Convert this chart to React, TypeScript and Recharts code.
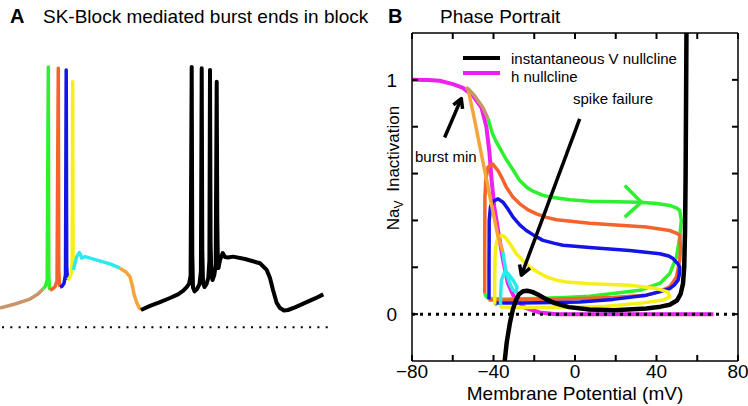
import { Legend, Line, LineChart, XAxis, YAxis } from "recharts";

const FONT = "'Liberation Sans', Arial, Helvetica, sans-serif";

// ---- Panel A: voltage trace, [time (ms), V (mV)] ----
const baselineA = [[2, -64], [328, -64]];
const tanA = [[0, -55.1], [15, -53.2], [30, -50.9], [38, -48.5], [43, -46.2]];
const greenA = [[43, -46.2], [45.5, -44.8], [47.2, -42.0], [48.3, 57.4], [48.8, -40], [49.3, -44.5], [50, -46.7]];
const redA = [[50, -46.7], [52.5, -46.2], [55, -45.1], [57, -42.5], [58.3, 56.8], [58.8, -38], [59.4, -43.5], [60, -45.3]];
const blueA = [[60, -45.3], [62, -45.0], [64, -43.5], [65.5, -39.5], [66.2, 56.0], [66.7, -36], [67.6, -42.0]];
const yellowA = [[67.6, -42.0], [69.5, -41.1], [71.2, -39.0], [72.2, -33], [72.7, 50.5], [73.1, -30], [73.4, -37.3]];
const cyanA = [[73.4, -37.3], [74.8, -34.5], [76.7, -31.1], [79.3, -29.2], [80.8, -30.3], [81.7, -31.8], [85, -31.1], [97, -32.7], [110, -34.5], [120, -36.5]];
const orangeA = [[120, -36.5], [126, -38.3], [130, -40.5], [132, -44], [134, -48.5], [136.5, -52.3], [139, -54.8], [141, -56.0]];
const blackA = [
  [141, -56.0], [150, -54.1], [160, -52.3], [170, -50.4], [178, -48.7], [183, -47.1], [186.7, -45.3], [189, -43.9], [190.6, -40],
  [191.7, 57.4], [192.3, -30], [193, -45.5], [194.5, -47.3], [197, -46.2], [199.5, -43.9], [200.9, -38],
  [201.7, 56.8], [202.3, -28], [203, -43], [204.5, -45.3], [206.5, -43.9], [208.3, -41], [209.4, -33],
  [210, 56.0], [210.6, -25], [211.3, -38], [212.5, -42.0], [214.3, -39.7], [215.7, -35],
  [216.7, 50.5], [217.3, -15], [217.8, -32], [218.5, -36.4], [220, -32.7], [222.7, -29.4], [225, -31.3], [228, -31.5],
  [233, -31.1], [245, -32.2], [260, -34.2], [266.7, -37.3], [270, -41.1], [273, -46.7], [276.7, -52.7], [280, -55.1],
  [284, -56.2], [288, -56.0], [295, -54.8], [305, -52.7], [315, -50.6], [323.3, -48.7],
];

// ---- Panel B: phase portrait, [V (mV), h] ----
const vTicks = [-80, -60, -40, -20, 0, 20, 40, 60, 80];
const vLabels = [-80, -40, 0, 40, 80];
const hTicks = [0, 0.2, 0.4, 0.6, 0.8, 1];
const hLabels = [0, 1];
const legendNames = ["instantaneous V nullcline", "h nullcline"];

const zeroB = [[-80, 0], [80, 0]];
const hNullcline = [
  [-80, 1.0], [-72, 0.999], [-66.4, 0.996], [-59.9, 0.982], [-55.0, 0.966], [-50.1, 0.932], [-45.9, 0.882],
  [-43.5, 0.8], [-42.0, 0.69], [-40.9, 0.57], [-39.6, 0.457], [-37.5, 0.343], [-35.3, 0.23], [-32.9, 0.131],
  [-29.6, 0.067], [-24.7, 0.028], [-17.3, 0.007], [-9.1, 0.0], [68, 0.0],
];
const vNullcline = [
  [-34.5, -0.2], [-33.5, -0.12], [-32, -0.04], [-30.5, 0.02], [-29, 0.06], [-27.5, 0.085], [-25.5, 0.098], [-23.5, 0.1],
  [-21, 0.095], [-18, 0.083], [-14, 0.063], [-10, 0.047], [-3, 0.03], [7, 0.02], [19, 0.017], [35, 0.024], [42, 0.032],
  [46.5, 0.04], [50, 0.058], [51.8, 0.085], [53, 0.13], [53.6, 0.2], [54, 0.35], [54.3, 0.6], [54.5, 0.9], [54.7, 1.2],
];
const greenB = [
  [-42.7, 0.835], [-40.5, 0.77], [-38.6, 0.735], [-36, 0.695], [-33.7, 0.66], [-30, 0.61], [-27.1, 0.57], [-23.5, 0.54],
  [-20.6, 0.525], [-16, 0.508], [-12.4, 0.5], [-2.6, 0.488], [7.2, 0.482], [20, 0.48], [31.8, 0.478], [40, 0.472],
  [46.5, 0.464], [50, 0.452], [51.4, 0.443], [52.2, 0.4], [51.4, 0.329], [49.8, 0.244], [46.5, 0.173], [41.6, 0.131],
  [31.8, 0.102], [18.7, 0.088], [7.2, 0.076], [-5, 0.071], [-18.9, 0.067], [-35.3, 0.064], [-42, 0.068], [-43.5, 0.074],
  [-44.3, 0.088],
];
const redB = [
  [-44.3, 0.088], [-44.3, 0.3], [-44.2, 0.5], [-43.8, 0.57], [-42.7, 0.627], [-40.5, 0.641], [-37.8, 0.613],
  [-35.5, 0.575], [-33.7, 0.542], [-30.5, 0.5], [-27.1, 0.471], [-23, 0.445], [-18.9, 0.428], [-14, 0.413],
  [-9.1, 0.403], [7.2, 0.388], [20, 0.38], [35.0, 0.372], [46.5, 0.357], [50, 0.345], [51.4, 0.336], [51.8, 0.28],
  [51.4, 0.23], [49.8, 0.159], [46.5, 0.116], [41, 0.095], [35.0, 0.081], [18.7, 0.071], [2.3, 0.067], [-10, 0.064],
  [-27, 0.062], [-35.3, 0.06], [-41.8, 0.06], [-42.2, 0.062],
];
const blueB = [
  [-42.2, 0.062], [-42.2, 0.2], [-42.1, 0.4], [-41.5, 0.457], [-40.2, 0.482], [-37.8, 0.492], [-35.3, 0.478],
  [-33, 0.45], [-30.4, 0.414], [-27, 0.38], [-23.9, 0.357], [-19.5, 0.333], [-15.7, 0.315], [-10, 0.302],
  [-5.9, 0.294], [7.2, 0.284], [26.8, 0.272], [41.6, 0.258], [46, 0.248], [48.1, 0.237], [50.5, 0.215], [51.4, 0.201],
  [51.2, 0.17], [50.6, 0.145], [48.8, 0.125], [46.5, 0.109], [41, 0.094], [35.0, 0.081], [18.7, 0.063], [2.3, 0.052],
  [-10, 0.05], [-27.1, 0.048], [-38.6, 0.048], [-39.4, 0.04],
];
const yellowB = [
  [-39.4, 0.04], [-39.4, 0.15], [-39.2, 0.26], [-38.6, 0.305], [-37.5, 0.328], [-36.1, 0.336], [-34.8, 0.332],
  [-33.7, 0.322], [-31.5, 0.295], [-28.8, 0.258], [-25.5, 0.228], [-22.2, 0.201], [-18, 0.178], [-14.0, 0.159],
  [-9, 0.145], [-4.2, 0.137], [7.2, 0.13], [26.8, 0.123], [40, 0.109], [45.6, 0.095], [46.5, 0.074], [43.2, 0.06],
  [31.8, 0.046], [15.4, 0.034], [2.3, 0.031], [-10, 0.029], [-27.1, 0.028], [-36.1, 0.031], [-36.6, 0.04],
];
const cyanB = [
  [-36.6, 0.04], [-36.4, 0.1], [-36.1, 0.145], [-34.5, 0.18], [-32.9, 0.173], [-30.4, 0.145], [-28.5, 0.116],
  [-28.8, 0.095], [-30.4, 0.102], [-32.0, 0.131], [-33.7, 0.173], [-34.8, 0.23], [-35.4, 0.265],
];
const orangeB = [[-35.4, 0.265], [-37.9, 0.336], [-40.4, 0.443], [-43.3, 0.57], [-46.3, 0.698], [-49.2, 0.826], [-52.5, 0.962], [-53.5, 0.966]];
const tanB = [[-53.5, 0.966], [-52.5, 0.962], [-50, 0.94], [-48.4, 0.922], [-45.2, 0.882], [-43.5, 0.85], [-42.7, 0.835]];

// annotation arrows, in data coordinates
const burstMinShaft = [[-64, 0.754], [-55.8, 0.92]];
const burstMinHead = [[-59.7, 0.893], [-55.8, 0.92], [-55.2, 0.876]];
const failureShaft = [[2.3, 0.833], [-26.3, 0.166]];
const failureHead = [[-22.1, 0.196], [-26.3, 0.166], [-27.2, 0.212]];
const chevron = [[24.4, 0.549], [32.6, 0.478], [24.4, 0.414]];

const COLORS = {
  tan: "#c9956b",
  green: "#2ef02e",
  red: "#f3632b",
  blue: "#1414e6",
  yellow: "#f7ef1a",
  cyan: "#2ce9ee",
  orange: "#f6a43a",
  magenta: "#ef1fef",
};

const tv = (pts: number[][]) => pts.map(([t, v]) => ({ t, v }));
const vh = (pts: number[][]) => pts.map(([v, h]) => ({ v, h }));

const minus = (n: number) => (n < 0 ? `\u2212${Math.abs(n)}` : `${n}`);

function traceLine(key: string, pts: number[][], color: string, width = 3.5, dash?: string) {
  return (
    <Line
      key={key}
      data={tv(pts)}
      dataKey="v"
      stroke={color}
      strokeWidth={width}
      strokeDasharray={dash}
      strokeLinejoin="round"
      legendType="none"
      dot={false}
      activeDot={false}
      isAnimationActive={false}
    />
  );
}

function phaseLine(
  key: string,
  pts: number[][],
  color: string,
  width = 3.5,
  name?: string,
  dash?: string,
) {
  return (
    <Line
      key={key}
      name={name ?? key}
      data={vh(pts)}
      dataKey="h"
      stroke={color}
      strokeWidth={width}
      strokeDasharray={dash}
      strokeLinejoin="round"
      legendType={name ? "line" : "none"}
      dot={false}
      activeDot={false}
      isAnimationActive={false}
    />
  );
}

function PhaseLegend(props: any) {
  const items = (props.payload || [])
    .filter((it: any) => legendNames.includes(it.value))
    .sort((a: any, b: any) => legendNames.indexOf(a.value) - legendNames.indexOf(b.value));
  const lineTop = [6.3, 20.7];
  const textTop = [1.3, 19];
  return (
    <div style={{ position: "relative", width: 230, height: 36, fontFamily: FONT, fontSize: 15, lineHeight: "15px" }}>
      {items.map((it: any, i: number) => (
        <div key={it.value}>
          <div style={{ position: "absolute", left: 0, top: lineTop[i], width: 37, height: 4, background: it.color }} />
          <div style={{ position: "absolute", left: 48, top: textTop[i], whiteSpace: "nowrap", color: "#000" }}>
            {it.value}
          </div>
        </div>
      ))}
    </div>
  );
}

function YLabel(props: any) {
  const vb = props.viewBox || { x: 0, y: 0, width: 0, height: 0 };
  const x = vb.x + vb.width - 13;
  const y = vb.y + 135;
  return (
    <text
      x={x}
      y={y}
      transform={`rotate(-90 ${x} ${y})`}
      textAnchor="middle"
      fontSize={17}
      fontFamily={FONT}
      fill="#000"
    >
      Na
      <tspan dy={4} fontSize={12}>V</tspan>
      <tspan dy={-4} dx={4}> Inactivation</tspan>
    </text>
  );
}

const tickStyle = { fill: "#000", fontSize: 19, fontFamily: FONT };

export default function App() {
  return (
    <div style={{ position: "absolute", left: 0, top: 0, width: 748, height: 406, background: "#fff" }}>
      <div style={{ position: "absolute", left: 0, top: 0 }}>
        <LineChart width={340} height={406} margin={{ top: 40, right: 10, bottom: 66, left: 0 }}>
          <XAxis type="number" dataKey="t" domain={[0, 330]} hide />
          <YAxis type="number" domain={[-70, 70]} hide />
          {traceLine("base", baselineA, "#000", 2, "2 6.3")}
          {traceLine("tan", tanA, COLORS.tan)}
          {traceLine("green", greenA, COLORS.green)}
          {traceLine("red", redA, COLORS.red)}
          {traceLine("blue", blueA, COLORS.blue)}
          {traceLine("yellow", yellowA, COLORS.yellow)}
          {traceLine("cyan", cyanA, COLORS.cyan)}
          {traceLine("orange", orangeA, COLORS.orange)}
          {traceLine("black", blackA, "#000", 4)}
        </LineChart>
      </div>

      <div style={{ position: "absolute", left: 370, top: 0 }}>
        <LineChart width={378} height={406} margin={{ top: 32, right: 9, bottom: 0, left: 12 }}>
          <XAxis
            type="number"
            dataKey="v"
            domain={[-80, 80]}
            ticks={vTicks}
            interval={0}
            height={45}
            stroke="#000"
            axisLine={{ strokeWidth: 1.5 }}
            tickLine={{ strokeWidth: 2 }}
            tickSize={-6}
            tickMargin={10}
            tick={tickStyle}
            tickFormatter={(v: number) => (vLabels.includes(v) ? minus(v) : "")}
            label={{ value: "Membrane Potential (mV)", position: "insideBottom", offset: 6, fill: "#000", fontSize: 19, fontFamily: FONT }}
          />
          <XAxis
            xAxisId="top"
            orientation="top"
            type="number"
            dataKey="v"
            domain={[-80, 80]}
            allowDataOverflow
            ticks={vTicks}
            interval={0}
            height={1}
            stroke="#000"
            axisLine={{ strokeWidth: 1.5 }}
            tickLine={{ strokeWidth: 2 }}
            tickSize={-6}
            tickFormatter={() => ""}
          />
          <YAxis
            type="number"
            domain={[-0.2, 1.2]}
            allowDataOverflow
            ticks={hTicks}
            interval={0}
            width={30}
            stroke="#000"
            axisLine={{ strokeWidth: 1.5 }}
            tickLine={{ strokeWidth: 2 }}
            tickSize={-6}
            tickMargin={21}
            tick={tickStyle}
            tickFormatter={(v: number) => (hLabels.includes(v) ? `${v}` : "")}
            label={{ content: <YLabel /> }}
          />
          <YAxis
            yAxisId="right"
            orientation="right"
            type="number"
            domain={[-0.2, 1.2]}
            allowDataOverflow
            ticks={hTicks}
            interval={0}
            width={1}
            stroke="#000"
            axisLine={{ strokeWidth: 1.5 }}
            tickLine={{ strokeWidth: 2 }}
            tickSize={-6}
            tickFormatter={() => ""}
          />
          <Legend
            layout="vertical"
            align="center"
            verticalAlign="middle"
            wrapperStyle={{ left: 93, top: 50, width: 230, height: 36 }}
            content={<PhaseLegend />}
          />
          {phaseLine("hnull", hNullcline, COLORS.magenta, 4, "h nullcline")}
          {phaseLine("zero", zeroB, "#000", 3, undefined, "3 5")}
          {phaseLine("green", greenB, COLORS.green)}
          {phaseLine("red", redB, COLORS.red)}
          {phaseLine("blue", blueB, COLORS.blue)}
          {phaseLine("yellow", yellowB, COLORS.yellow)}
          {phaseLine("cyan", cyanB, COLORS.cyan)}
          {phaseLine("orange", orangeB, COLORS.orange)}
          {phaseLine("tan", tanB, COLORS.tan)}
          {phaseLine("vnull", vNullcline, "#000", 4.5, "instantaneous V nullcline")}
          {phaseLine("bmShaft", burstMinShaft, "#000", 3.5)}
          {phaseLine("bmHead", burstMinHead, "#000", 3.5)}
          {phaseLine("sfShaft", failureShaft, "#000", 3.5)}
          {phaseLine("sfHead", failureHead, "#000", 3.5)}
          {phaseLine("chev", chevron, COLORS.green)}
        </LineChart>
      </div>

      <svg
        width={748}
        height={406}
        style={{ position: "absolute", left: 0, top: 0, pointerEvents: "none" }}
        fontFamily={FONT}
      >
        <text x={10} y={23} fontSize={20} fontWeight="bold">A</text>
        <text x={43} y={23} fontSize={19}>SK-Block mediated burst ends in block</text>
        <text x={388} y={23} fontSize={20} fontWeight="bold">B</text>
        <text x={440} y={23} fontSize={19}>Phase Portrait</text>
        <text x={415} y={162} fontSize={15}>burst min</text>
        <text x={573} y={104} fontSize={15}>spike failure</text>
      </svg>
    </div>
  );
}
